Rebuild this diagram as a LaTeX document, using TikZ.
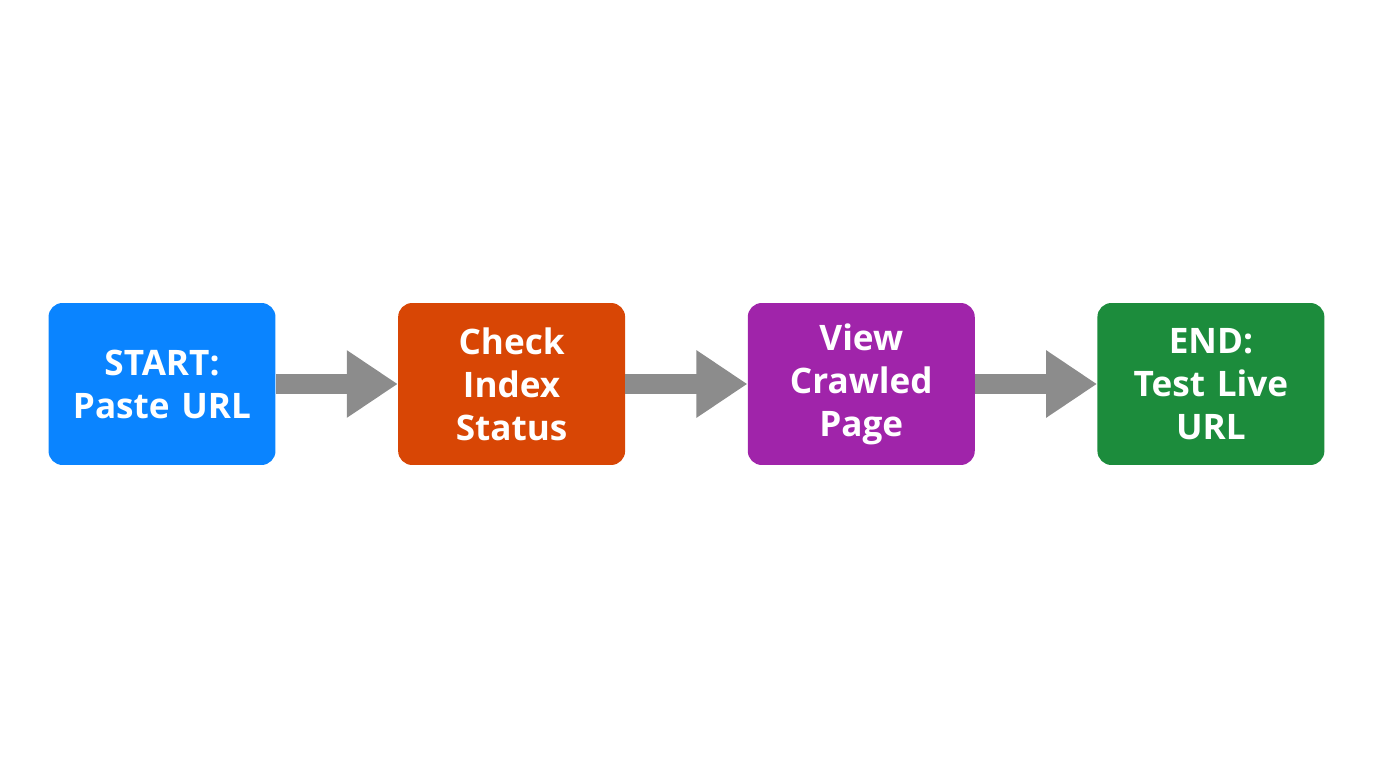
\documentclass[tikz,border=0pt]{standalone}
\usepackage{fontspec}
\setmainfont{Open Sans}
\usetikzlibrary{positioning,arrows.meta}

\definecolor{stepblue}{RGB}{10,132,255}
\definecolor{steporange}{RGB}{216,70,5}
\definecolor{steppurple}{RGB}{160,36,170}
\definecolor{stepgreen}{RGB}{28,140,60}
\definecolor{arrowgray}{RGB}{140,140,140}

\begin{document}
\begin{tikzpicture}
		[
		x=0.02cm, y=0.02cm, font=\bfseries\fontsize{20}{24.5}\selectfont,
		node distance=2.44cm,
		stepbox/.style={rectangle, rounded corners=0.28cm, minimum width=4.54cm,
			minimum height=3.24cm, text width=4.3cm, inner xsep=0pt, align=center, text=white},
		flow/.style={arrowgray, line width=0.4cm,
			-{Triangle[length=1.02cm, width=1.28cm]}}
		]
		
		%Rahmen
		\useasboundingbox (0,0) rectangle (1376,768);
		
		%Schritte
		\node[stepbox, fill=stepblue] (start) at (162,384) {START:\\Paste URL};
		\node[stepbox, fill=steporange, right=of start] (check) {Check\\Index\\Status};
		\node[stepbox, fill=steppurple, right=of check] (view) {View\\Crawled\\Page};
		\node[stepbox, fill=stepgreen, right=of view] (end) {END:\\Test Live\\URL};
		
		%Pfeile
		\draw[flow] (start) -- (check);
		\draw[flow] (check) -- (view);
		\draw[flow] (view) -- (end);
		
\end{tikzpicture}
\end{document}
